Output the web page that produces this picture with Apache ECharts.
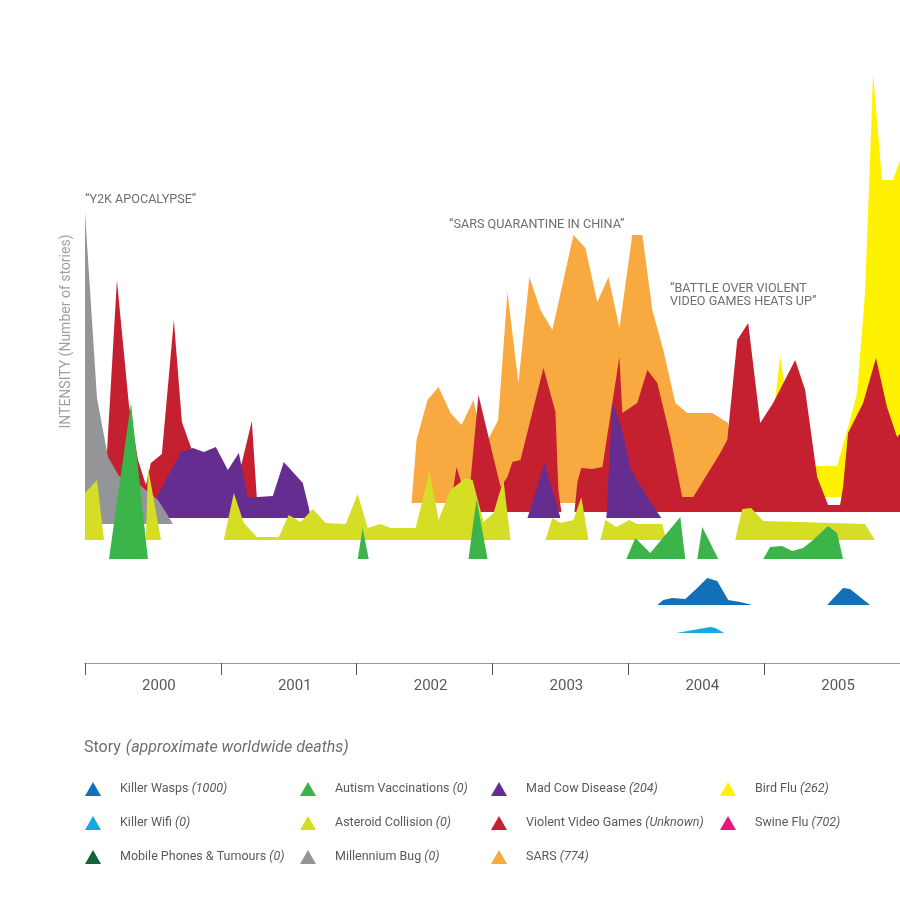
<!DOCTYPE html>
<html>
<head>
<meta charset="utf-8">
<script src="https://cdn.jsdelivr.net/npm/echarts@6/dist/echarts.min.js"></script>
<style>html,body{margin:0;padding:0;background:#fff;}#chart{width:900px;height:900px;}</style>
</head>
<body>
<div id="chart"></div>
<script>
// Years shown on the time axis
const years = ['2000', '2001', '2002', '2003', '2004', '2005'];

// x values: months since January 2000; values: intensity (number of stories, arbitrary units)
const millenniumBugMonths = [0, 1.06, 2.03, 3.0, 4.94, 6.44, 7.24, 7.76];
const millenniumBugValues = [312, 126, 67, 48, 38, 24, 10, 0];

const videoGamesMonths = [1.85, 2.82, 3.88, 4.68, 5.38, 5.82, 6.79, 7.85, 8.56, 9.35, 10.24, 11.56, 12.88, 13.85, 14.74, 15.18, 15.53,
  32.29, 32.56, 32.82, 33.44, 34.06, 34.76, 36.71, 37.32, 37.76, 38.47, 40.5, 41.56, 41.82, 42.09,
  43.24, 43.5, 43.85, 44.82, 45.71, 47.21, 47.47, 48.79, 49.68, 50.56, 51.71, 52.76, 53.74,
  56.12, 56.74, 57.62, 58.59, 59.65, 60.79, 62.74, 63.62, 64.68, 65.65, 66.71, 66.97, 67.41, 68.74, 69.88, 70.85, 71.74, 72.18];
const videoGamesValues = [42, 232, 107, 52, 27, 49, 58, 192, 90, 65, 27, 22, 22, 49, 91, 14, 0,
  0, 25, 45, 22, 32, 117, 25, 35, 50, 52, 144, 100, 22, 0,
  0, 30, 44, 43, 45, 155, 99, 109, 142, 129, 75, 15, 15,
  59, 72, 172, 189, 89, 109, 152, 122, 35, 7, 7, 25, 79, 109, 154, 105, 75, 80];

const madCowMonths = [5.47, 6.44, 8.47, 9.53, 10.5, 11.56, 12.62, 13.59, 14.38, 15.26, 16.59, 17.56, 19.24, 19.76, 19.94,
  39.09, 40.59, 41.56, 42.0, 46.06, 46.59, 47.38, 48.26, 49.68, 50.91];
const madCowValues = [0, 23, 66, 70, 66, 71, 48, 65, 21, 21, 22, 56, 35, 11, 0,
  0, 55, 18, 0, 0, 115, 91, 48, 21, 0];

const sarsMonths = [28.85, 29.29, 30.26, 31.23, 32.29, 33.26, 34.32, 35.12, 35.6, 36.5, 37.32, 38.29, 39.26, 40.24, 41.29,
  43.15, 44.21, 45.26, 46.24, 47.21, 48.35, 49.24, 50.12, 51.09, 52.15, 53.21, 55.41, 56.82, 57.88];
const sarsValues = [0, 63, 103, 116, 90, 78, 103, 63, 63, 83, 211, 120, 226, 193, 173,
  268, 255, 201, 226, 175, 268, 268, 193, 153, 100, 90, 90, 80, 0];

const birdFluMonths = [60.09, 60.97, 61.41, 62.29, 63.62, 64.68, 66.44, 67.59, 68.21, 68.91, 69.35, 69.62, 70.41, 71.38, 72.0, 72.44];
const birdFluValues = [0, 97, 141, 77, 37, 31, 31, 77, 104, 204, 337, 424, 317, 317, 337, 357];

const asteroidMonths = [0, 1.06, 1.68, 5.38, 5.56, 6.71, 12.26, 13.15, 14.03, 15.18, 17.12, 18.0, 19.06, 20.12, 21.26, 23.03,
  24.09, 24.97, 26.12, 27.0, 29.21, 30.44, 31.24, 32.29, 33.62, 34.24, 35.21, 36.09, 36.97, 37.59,
  40.68, 41.29, 42.0, 43.15, 43.85, 44.47, 45.53, 45.97, 46.94, 48.09, 48.79, 50.99, 51.35,
  57.44, 58.06, 58.85, 59.91, 63.18, 65.82, 68.91, 69.79];
const asteroidValues = [47, 60, 0, 0, 73, 0, 0, 47, 17, 3, 3, 25, 18, 31, 17, 16,
  46, 12, 16, 12, 12, 68, 20, 50, 62, 60, 18, 27, 60, 0,
  0, 22, 17, 20, 43, 0, 0, 20, 13, 20, 16, 16, 0,
  0, 31, 32, 19, 18, 17, 16, 0];

const autismMonths = [2.12, 4.06, 5.56, 24.09, 24.53, 25.06, 33.88, 34.59, 35.56, 47.82, 48.62, 49.94, 52.59, 53.03,
  54.09, 54.53, 55.94, 59.91, 60.53, 61.59, 62.47, 63.44, 64.32, 65.65, 66.44, 66.97];
const autismValues = [0, 156, 0, 0, 31, 0, 0, 60, 0, 0, 21, 6, 42, 0,
  0, 32, 0, 0, 12, 13, 8, 11, 19, 33, 26, 0];

const killerWaspsMonths = [50.56, 51.09, 51.88, 53.03, 54.09, 54.97, 55.85, 56.82, 57.88, 58.94, 65.56, 66.97, 67.59, 69.35];
const killerWaspsValues = [0, 5, 7, 6, 17, 27, 24, 5, 3, 0, 0, 17, 16, 0];

const killerWifiMonths = [52.24, 53.74, 55.24, 55.68, 56.47];
const killerWifiValues = [0, 3, 6, 5, 0];

const mobilePhonesMonths = [];
const mobilePhonesValues = [];
const swineFluMonths = [];
const swineFluValues = [];

// Story names and approximate worldwide deaths (legend text)
const storyNames = ['Killer Wasps', 'Killer Wifi', 'Mobile Phones & Tumours', 'Autism Vaccinations', 'Asteroid Collision',
  'Millennium Bug', 'Mad Cow Disease', 'Violent Video Games', 'SARS', 'Bird Flu', 'Swine Flu'];
const storyDeaths = ['(1000)', '(0)', '(0)', '(0)', '(0)', '(0)', '(204)', '(Unknown)', '(774)', '(262)', '(702)'];

// --- layout / style (not data) ---
const lane = { // vertical lane offset of each story's baseline
  'Bird Flu': 166, 'SARS': 160, 'Violent Video Games': 151, 'Mad Cow Disease': 145, 'Millennium Bug': 139,
  'Asteroid Collision': 123, 'Autism Vaccinations': 104, 'Killer Wasps': 58, 'Killer Wifi': 30,
  'Mobile Phones & Tumours': 10, 'Swine Flu': 180
};
const colors = {
  'Killer Wasps': '#1170b8', 'Killer Wifi': '#16a8e4', 'Mobile Phones & Tumours': '#12633a',
  'Autism Vaccinations': '#3bb54a', 'Asteroid Collision': '#d5dd25', 'Millennium Bug': '#939598',
  'Mad Cow Disease': '#662d91', 'Violent Video Games': '#c4202f', 'SARS': '#f8aa40',
  'Bird Flu': '#fff200', 'Swine Flu': '#e5197c'
};
// draw order, back to front
const drawOrder = [
  ['Bird Flu', birdFluMonths, birdFluValues],
  ['SARS', sarsMonths, sarsValues],
  ['Violent Video Games', videoGamesMonths, videoGamesValues],
  ['Mad Cow Disease', madCowMonths, madCowValues],
  ['Millennium Bug', millenniumBugMonths, millenniumBugValues],
  ['Asteroid Collision', asteroidMonths, asteroidValues],
  ['Autism Vaccinations', autismMonths, autismValues],
  ['Killer Wasps', killerWaspsMonths, killerWaspsValues],
  ['Killer Wifi', killerWifiMonths, killerWifiValues],
  ['Mobile Phones & Tumours', mobilePhonesMonths, mobilePhonesValues],
  ['Swine Flu', swineFluMonths, swineFluValues]
];

const FONT = 'Roboto, "Liberation Sans", sans-serif';
const series = drawOrder.map(([name, months, values]) => ({
  name: name,
  type: 'line',
  xAxisIndex: 1,
  yAxisIndex: 0,
  color: colors[name],
  data: months.map((m, i) => [m, lane[name] + values[i]]),
  showSymbol: false,
  symbol: 'none',
  silent: true,
  lineStyle: { width: 0, opacity: 0 },
  areaStyle: { color: colors[name], opacity: 1, origin: lane[name] }
}));

const deathsOf = {};
storyNames.forEach((n, i) => { deathsOf[n] = storyDeaths[i]; });

function legendCol(names, left) {
  return {
    orient: 'vertical', left: left, top: 782, padding: 0,
    itemWidth: 16, itemHeight: 14, itemGap: 20, icon: 'triangle',
    selectedMode: false, data: names,
    formatter: n => '{n|' + n + '} {i|' + deathsOf[n] + '}',
    textStyle: {
      color: '#58595b', fontSize: 12.5, fontFamily: FONT, lineHeight: 14,
      rich: {
        n: { color: '#58595b', fontSize: 12.5, fontFamily: FONT, padding: [0, 0, 0, 14] },
        i: { color: '#58595b', fontSize: 12.5, fontFamily: FONT, fontStyle: 'italic' }
      }
    }
  };
}

const chart = echarts.init(document.getElementById('chart'), null, { renderer: 'canvas' });
chart.setOption({
  animation: false,
  backgroundColor: '#fff',
  title: {
    text: '{a|Story} {b|(approximate worldwide deaths)}',
    left: 84, top: 739, padding: 0,
    textStyle: {
      fontWeight: 'normal',
      rich: {
        a: { fontSize: 16, color: '#6d6e71', fontFamily: FONT, fontWeight: 'normal' },
        b: { fontSize: 16, color: '#6d6e71', fontFamily: FONT, fontStyle: 'italic', fontWeight: 'normal' }
      }
    }
  },
  legend: [
    legendCol(['Killer Wasps', 'Killer Wifi', 'Mobile Phones & Tumours'], 85),
    legendCol(['Autism Vaccinations', 'Asteroid Collision', 'Millennium Bug'], 300),
    legendCol(['Mad Cow Disease', 'Violent Video Games', 'SARS'], 491),
    legendCol(['Bird Flu', 'Swine Flu'], 720)
  ],
  grid: { left: 85, right: -1, top: 0, bottom: 237, containLabel: false },
  xAxis: [
    {
      type: 'category', data: years, position: 'bottom', boundaryGap: true,
      axisLine: { show: true, lineStyle: { color: '#9a9a9a', width: 1 } },
      axisTick: { show: true, inside: false, alignWithLabel: false, interval: 0, length: 12, lineStyle: { color: '#555', width: 1 } },
      axisLabel: { color: '#58595b', fontSize: 15, margin: 16, fontFamily: FONT, padding: [0, 0, 0, 12] },
      splitLine: { show: false }
    },
    { type: 'value', min: 0, max: 72, show: false }
  ],
  yAxis: {
    type: 'value', min: 0, max: 663,
    axisLine: { show: false }, axisTick: { show: false }, axisLabel: { show: false }, splitLine: { show: false },
    name: 'INTENSITY (Number of stories)', nameLocation: 'middle', nameGap: 12, nameRotate: 90,
    nameTextStyle: { color: '#9d9fa2', fontSize: 14, fontFamily: FONT }
  },
  graphic: [
    { type: 'text', left: 85, top: 193, style: { text: '\u201CY2K APOCALYPSE\u201D', fill: '#6d6e71', font: '12.6px ' + FONT } },
    { type: 'text', left: 449, top: 218, style: { text: '\u201CSARS QUARANTINE IN CHINA\u201D', fill: '#6d6e71', font: '12.6px ' + FONT } },
    { type: 'text', left: 670, top: 282, style: { text: '\u201CBATTLE OVER VIOLENT\nVIDEO GAMES HEATS UP\u201D', fill: '#6d6e71', font: '12.6px ' + FONT, lineHeight: 13 } }
  ],
  series: series
});
</script>
</body>
</html>
